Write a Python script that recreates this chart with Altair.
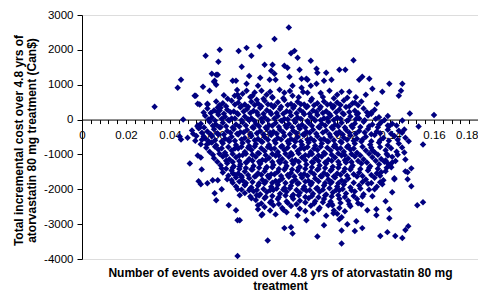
import altair as alt
import pandas as pd

# (events avoided, incremental cost Can$)
upper_points = [
    (0.094, 2640), (0.0875, 2314), (0.0807, 2100), (0.0748, 2057), (0.0626, 2000),
    (0.0712, 1970), (0.0966, 1971), (0.095, 1900), (0.0562, 1829), (0.077, 1829),
    (0.098, 1771), (0.104, 1686), (0.1234, 1700), (0.062, 1657), (0.083, 1571),
    (0.0866, 1571), (0.092, 1543), (0.0726, 1514), (0.0934, 1486), (0.0989, 1429),
    (0.1066, 1457), (0.086, 1400), (0.107, 1343), (0.111, 1343), (0.117, 1429),
    (0.1197, 1429), (0.059, 1314), (0.061, 1286), (0.0875, 1314), (0.1274, 1229),
    (0.126, 1143), (0.1306, 1171), (0.045, 1143), (0.0853, 1143), (0.088, 1143),
    (0.0943, 1229), (0.0998, 1171), (0.102, 1171), (0.1134, 1143), (0.060, 1086),
    (0.0685, 1114), (0.070, 1114), (0.110, 1114), (0.061, 1000), (0.0748, 1029),
    (0.1066, 1029), (0.1397, 1029), (0.1456, 1029), (0.0435, 914), (0.055, 943),
    (0.080, 971), (0.104, 971), (0.0957, 971), (0.0998, 914), (0.132, 886),
    (0.0898, 857), (0.058, 829), (0.0748, 829), (0.0816, 829), (0.1125, 829),
    (0.145, 829), (0.118, 800), (0.1215, 800), (0.1365, 800), (0.092, 771),
    (0.1025, 771), (0.073, 743), (0.0707, 714), (0.0839, 714), (0.116, 714),
    (0.129, 714), (0.0512, 686), (0.0694, 686), (0.0775, 686), (0.0957, 686),
    (0.144, 686), (0.0866, 629), (0.1206, 629), (0.0662, 600), (0.0794, 571),
    (0.0617, 1286), (0.0603, 1114), (0.1025, 1143), (0.076, 1250), (0.081, 1200),
    (0.0715, 620), (0.0765, 650), (0.0825, 600), (0.0865, 650), (0.0915, 610),
    (0.0985, 640), (0.1045, 600), (0.1095, 650), (0.1145, 610), (0.1245, 640),
    (0.0785, 780), (0.0855, 800), (0.0945, 820), (0.1005, 790), (0.1085, 760),
    (0.0705, 850), (0.0645, 700),
]

left_right_fringe = [
    (0.033, 371), (0.0517, 686), (0.0535, 430), (0.0571, 430), (0.0526, 457),
    (0.057, 457), (0.0553, 200), (0.0617, 343), (0.0626, 257), (0.046, 0),
    (0.0444, -486), (0.045, -571), (0.0526, -171), (0.0535, -229), (0.0553, -486),
    (0.059, -657), (0.0567, -714), (0.049, -1257), (0.0526, -1029), (0.054, -1086),
    (0.0544, -1429), (0.053, -1771), (0.054, -1857), (0.057, -1829), (0.0594, -1743),
    (0.0617, -1743), (0.0603, -2114), (0.061, -2314), (0.0635, -2000), (0.0635, -1400),
    (0.134, 457), (0.1315, 200), (0.149, 171), (0.160, 130), (0.124, 486),
    (0.125, 143), (0.1456, -29), (0.143, -171), (0.139, -171), (0.135, -143),
    (0.153, -200), (0.1465, -286), (0.155, -714), (0.1465, -943), (0.147, -1143),
    (0.1497, -1400), (0.147, -1486), (0.148, -1514), (0.148, -1714), (0.142, -1686),
    (0.139, -1029), (0.139, -1257), (0.1406, -1371), (0.132, -886), (0.141, -1229),
    (0.138, -1171), (0.136, -1514), (0.1365, -1857), (0.133, -2000), (0.1497, -1914),
    (0.141, -2086), (0.142, -1714),
]

core_upper = [
    (0.061, 520), (0.064, 470), (0.068, 540), (0.071, 480), (0.074, 430), (0.077, 510),
    (0.080, 460), (0.083, 540), (0.086, 420), (0.089, 500), (0.092, 560), (0.095, 450),
    (0.098, 510), (0.101, 430), (0.104, 540), (0.107, 470), (0.110, 520), (0.113, 440),
    (0.116, 490), (0.119, 550), (0.123, 470), (0.127, 520),
    (0.0625, 410), (0.0655, 380), (0.0695, 430), (0.0725, 390), (0.0755, 370), (0.0785, 420),
    (0.0815, 380), (0.0845, 440), (0.0875, 400), (0.0905, 370), (0.0935, 420), (0.0965, 390),
    (0.0995, 440), (0.1025, 380), (0.1055, 410), (0.1085, 370), (0.1115, 430), (0.1145, 390),
    (0.1175, 420), (0.1215, 380), (0.1255, 410),
    (0.057, 320), (0.060, 260), (0.063, 340), (0.066, 280), (0.069, 230), (0.072, 350),
    (0.075, 300), (0.078, 250), (0.081, 330), (0.084, 270), (0.087, 360), (0.090, 300),
    (0.093, 240), (0.096, 330), (0.099, 280), (0.102, 350), (0.105, 260), (0.108, 310),
    (0.111, 240), (0.114, 340), (0.117, 290), (0.120, 360), (0.124, 250), (0.128, 320),
    (0.133, 280),
    (0.0585, 190), (0.0615, 220), (0.0645, 170), (0.0675, 210), (0.0705, 180), (0.0735, 230),
    (0.0765, 190), (0.0795, 210), (0.0825, 170), (0.0855, 220), (0.0885, 190), (0.0915, 170),
    (0.0945, 220), (0.0975, 180), (0.1005, 210), (0.1035, 170), (0.1065, 220), (0.1095, 190),
    (0.1125, 160), (0.1155, 210), (0.1185, 180), (0.1215, 220), (0.1255, 180), (0.1295, 210),
    (0.1315, 170),
    (0.056, 110), (0.059, 60), (0.062, 140), (0.065, 80), (0.068, 30), (0.071, 150),
    (0.074, 90), (0.077, 40), (0.080, 130), (0.083, 70), (0.086, 160), (0.089, 100),
    (0.092, 20), (0.095, 120), (0.098, 60), (0.101, 150), (0.104, 80), (0.107, 130),
    (0.110, 40), (0.113, 110), (0.116, 60), (0.119, 150), (0.122, 90), (0.126, 30),
    (0.130, 120), (0.135, 70), (0.139, 100),
    (0.0575, 0), (0.0605, -30), (0.0635, 20), (0.0665, -10), (0.0695, 30), (0.0725, -20),
    (0.0755, 10), (0.0785, -40), (0.0815, 20), (0.0845, -10), (0.0875, 30), (0.0905, -30),
    (0.0935, 10), (0.0965, -20), (0.0995, 20), (0.1025, -40), (0.1055, 10), (0.1085, -20),
    (0.1115, 30), (0.1145, -10), (0.1175, 20), (0.1205, -30), (0.1245, 10), (0.1285, -20),
    (0.1335, 20), (0.1375, -10),
    (0.054, -120), (0.058, -60), (0.061, -150), (0.064, -90), (0.067, -30), (0.070, -140),
    (0.073, -80), (0.076, -20), (0.079, -130), (0.082, -70), (0.085, -160), (0.088, -100),
    (0.091, -40), (0.094, -130), (0.097, -70), (0.100, -150), (0.103, -90), (0.106, -30),
    (0.109, -120), (0.112, -60), (0.115, -150), (0.118, -90), (0.121, -20), (0.124, -110),
    (0.128, -60), (0.132, -140), (0.136, -80), (0.141, -120),
    (0.0525, -200), (0.0555, -230), (0.0595, -180), (0.0625, -220), (0.0655, -190), (0.0685, -230),
    (0.0715, -200), (0.0745, -170), (0.0775, -220), (0.0805, -190), (0.0835, -230), (0.0865, -180),
    (0.0895, -210), (0.0925, -170), (0.0955, -220), (0.0985, -190), (0.1015, -230), (0.1045, -180),
    (0.1075, -210), (0.1105, -170), (0.1135, -220), (0.1165, -190), (0.1195, -230), (0.1225, -180),
    (0.1265, -210), (0.1305, -190), (0.1345, -220), (0.1395, -200),
    (0.050, -310), (0.053, -250), (0.057, -340), (0.060, -280), (0.063, -220), (0.066, -330),
    (0.069, -270), (0.072, -360), (0.075, -300), (0.078, -240), (0.081, -330), (0.084, -270),
    (0.087, -350), (0.090, -290), (0.093, -230), (0.096, -320), (0.099, -260), (0.102, -350),
    (0.105, -290), (0.108, -230), (0.111, -320), (0.114, -260), (0.117, -350), (0.120, -290),
    (0.123, -230), (0.126, -330), (0.130, -270), (0.134, -340), (0.139, -290), (0.144, -320),
]

core_middle = [
    (0.0505, -410), (0.0545, -380), (0.0585, -420), (0.0615, -390), (0.0645, -430), (0.0675, -380),
    (0.0705, -410), (0.0735, -370), (0.0765, -420), (0.0795, -390), (0.0825, -430), (0.0855, -380),
    (0.0885, -410), (0.0915, -370), (0.0945, -420), (0.0975, -390), (0.1005, -430), (0.1035, -380),
    (0.1065, -410), (0.1095, -370), (0.1125, -420), (0.1155, -390), (0.1185, -430), (0.1215, -380),
    (0.1245, -410), (0.1285, -370), (0.1315, -420), (0.1355, -390), (0.1405, -410), (0.1455, -380),
    (0.048, -520), (0.052, -470), (0.056, -540), (0.059, -480), (0.062, -430), (0.065, -550),
    (0.068, -490), (0.071, -430), (0.074, -530), (0.077, -470), (0.080, -560), (0.083, -500),
    (0.086, -440), (0.089, -530), (0.092, -470), (0.095, -560), (0.098, -500), (0.101, -440),
    (0.104, -540), (0.107, -480), (0.110, -560), (0.113, -490), (0.116, -430), (0.119, -520),
    (0.122, -460), (0.125, -550), (0.129, -490), (0.133, -440), (0.137, -530), (0.142, -470),
    (0.147, -520),
    (0.0515, -610), (0.0545, -580), (0.0575, -620), (0.0605, -590), (0.0635, -630), (0.0665, -580),
    (0.0695, -610), (0.0725, -570), (0.0755, -620), (0.0785, -590), (0.0815, -630), (0.0845, -580),
    (0.0875, -610), (0.0905, -570), (0.0935, -620), (0.0965, -590), (0.0995, -630), (0.1025, -580),
    (0.1055, -610), (0.1085, -570), (0.1115, -620), (0.1145, -590), (0.1175, -630), (0.1205, -580),
    (0.1235, -610), (0.1275, -570), (0.1315, -620), (0.1355, -590), (0.1395, -610), (0.1435, -580),
    (0.1485, -620),
    (0.054, -710), (0.058, -660), (0.061, -740), (0.064, -680), (0.067, -620), (0.070, -730),
    (0.073, -670), (0.076, -760), (0.079, -700), (0.082, -640), (0.085, -730), (0.088, -670),
    (0.091, -760), (0.094, -690), (0.097, -630), (0.100, -720), (0.103, -660), (0.106, -750),
    (0.109, -690), (0.112, -630), (0.115, -720), (0.118, -660), (0.121, -750), (0.124, -690),
    (0.127, -630), (0.131, -720), (0.135, -660), (0.139, -740), (0.144, -690),
    (0.0565, -810), (0.0605, -780), (0.0635, -820), (0.0665, -790), (0.0695, -830), (0.0725, -780),
    (0.0755, -810), (0.0785, -770), (0.0815, -820), (0.0845, -790), (0.0875, -830), (0.0905, -780),
    (0.0935, -810), (0.0965, -770), (0.0995, -820), (0.1025, -790), (0.1055, -830), (0.1085, -780),
    (0.1115, -810), (0.1145, -770), (0.1175, -820), (0.1205, -790), (0.1235, -830), (0.1275, -780),
    (0.1315, -810), (0.1355, -790), (0.1405, -820), (0.1455, -800),
    (0.058, -920), (0.062, -860), (0.065, -950), (0.068, -890), (0.071, -830), (0.074, -930),
    (0.077, -870), (0.080, -960), (0.083, -900), (0.086, -840), (0.089, -930), (0.092, -870),
    (0.095, -960), (0.098, -900), (0.101, -840), (0.104, -930), (0.107, -870), (0.110, -950),
    (0.113, -890), (0.116, -830), (0.119, -920), (0.122, -860), (0.125, -950), (0.129, -890),
    (0.133, -940), (0.138, -880), (0.143, -920),
    (0.0595, -1010), (0.0625, -980), (0.0655, -1020), (0.0685, -990), (0.0715, -1030), (0.0745, -980),
    (0.0775, -1010), (0.0805, -970), (0.0835, -1020), (0.0865, -990), (0.0895, -1030), (0.0925, -980),
    (0.0955, -1010), (0.0985, -970), (0.1015, -1020), (0.1045, -990), (0.1075, -1030), (0.1105, -980),
    (0.1135, -1010), (0.1165, -970), (0.1195, -1020), (0.1225, -990), (0.1265, -1030), (0.1305, -980),
    (0.1345, -1010), (0.1385, -990), (0.1435, -1010),
    (0.060, -1110), (0.064, -1060), (0.067, -1140), (0.070, -1080), (0.073, -1020), (0.076, -1130),
    (0.079, -1070), (0.082, -1160), (0.085, -1100), (0.088, -1040), (0.091, -1130), (0.094, -1070),
    (0.097, -1160), (0.100, -1090), (0.103, -1030), (0.106, -1120), (0.109, -1060), (0.112, -1150),
    (0.115, -1090), (0.118, -1030), (0.121, -1120), (0.124, -1060), (0.128, -1140), (0.132, -1080),
    (0.136, -1130), (0.141, -1070),
    (0.0615, -1210), (0.0655, -1180), (0.0685, -1220), (0.0715, -1190), (0.0745, -1230), (0.0775, -1180),
    (0.0805, -1210), (0.0835, -1170), (0.0865, -1220), (0.0895, -1190), (0.0925, -1230), (0.0955, -1180),
    (0.0985, -1210), (0.1015, -1170), (0.1045, -1220), (0.1075, -1190), (0.1105, -1230), (0.1135, -1180),
    (0.1165, -1210), (0.1195, -1170), (0.1225, -1220), (0.1255, -1190), (0.1295, -1230), (0.1335, -1180),
    (0.1375, -1210), (0.1425, -1190),
    (0.063, -1310), (0.066, -1250), (0.069, -1340), (0.072, -1280), (0.075, -1220), (0.078, -1330),
    (0.081, -1270), (0.084, -1360), (0.087, -1300), (0.090, -1240), (0.093, -1330), (0.096, -1270),
    (0.099, -1360), (0.102, -1290), (0.105, -1230), (0.108, -1320), (0.111, -1260), (0.114, -1350),
    (0.117, -1290), (0.120, -1230), (0.123, -1320), (0.127, -1260), (0.131, -1340), (0.135, -1280),
    (0.140, -1320),
]

core_lower = [
    (0.0655, -1410), (0.0685, -1380), (0.0715, -1420), (0.0745, -1390), (0.0775, -1430), (0.0805, -1380),
    (0.0835, -1410), (0.0865, -1370), (0.0895, -1420), (0.0925, -1390), (0.0955, -1430), (0.0985, -1380),
    (0.1015, -1410), (0.1045, -1370), (0.1075, -1420), (0.1105, -1390), (0.1135, -1430), (0.1165, -1380),
    (0.1195, -1410), (0.1225, -1370), (0.1265, -1420), (0.1305, -1390), (0.1345, -1410), (0.1385, -1380),
    (0.064, -1520), (0.068, -1460), (0.071, -1550), (0.074, -1490), (0.077, -1430), (0.080, -1540),
    (0.083, -1480), (0.086, -1570), (0.089, -1500), (0.092, -1440), (0.095, -1530), (0.098, -1470),
    (0.101, -1560), (0.104, -1500), (0.107, -1440), (0.110, -1530), (0.113, -1470), (0.116, -1550),
    (0.119, -1490), (0.122, -1430), (0.126, -1520), (0.130, -1460), (0.134, -1540), (0.138, -1480),
    (0.0665, -1610), (0.0695, -1580), (0.0725, -1620), (0.0755, -1590), (0.0785, -1630), (0.0815, -1580),
    (0.0845, -1610), (0.0875, -1570), (0.0905, -1620), (0.0935, -1590), (0.0965, -1630), (0.0995, -1580),
    (0.1025, -1610), (0.1055, -1570), (0.1085, -1620), (0.1115, -1590), (0.1145, -1630), (0.1175, -1580),
    (0.1205, -1610), (0.1235, -1570), (0.1275, -1620), (0.1315, -1590), (0.1355, -1610),
    (0.066, -1710), (0.070, -1660), (0.073, -1740), (0.076, -1680), (0.079, -1620), (0.082, -1730),
    (0.085, -1670), (0.088, -1760), (0.091, -1700), (0.094, -1640), (0.097, -1730), (0.100, -1670),
    (0.103, -1760), (0.106, -1690), (0.109, -1630), (0.112, -1720), (0.115, -1660), (0.118, -1750),
    (0.121, -1690), (0.125, -1630), (0.129, -1720), (0.133, -1670), (0.137, -1740),
    (0.0685, -1810), (0.0715, -1780), (0.0745, -1820), (0.0775, -1790), (0.0805, -1830), (0.0835, -1780),
    (0.0865, -1810), (0.0895, -1770), (0.0925, -1820), (0.0955, -1790), (0.0985, -1830), (0.1015, -1780),
    (0.1045, -1810), (0.1075, -1770), (0.1105, -1820), (0.1135, -1790), (0.1165, -1830), (0.1195, -1780),
    (0.1235, -1810), (0.1275, -1790), (0.1315, -1820), (0.1355, -1800),
    (0.070, -1920), (0.074, -1860), (0.077, -1950), (0.080, -1890), (0.083, -1830), (0.086, -1930),
    (0.089, -1870), (0.092, -1960), (0.095, -1900), (0.098, -1840), (0.101, -1930), (0.104, -1870),
    (0.107, -1960), (0.110, -1890), (0.113, -1830), (0.116, -1920), (0.119, -1860), (0.122, -1950),
    (0.126, -1890), (0.130, -1840), (0.134, -1930),
    (0.0725, -2010), (0.0765, -1980), (0.0795, -2020), (0.0825, -1990), (0.0855, -2030), (0.0885, -1980),
    (0.0915, -2010), (0.0945, -1970), (0.0975, -2020), (0.1005, -1990), (0.1035, -2030), (0.1065, -1980),
    (0.1095, -2010), (0.1125, -1970), (0.1155, -2020), (0.1185, -1990), (0.1225, -2030), (0.1265, -1980),
    (0.1305, -2010),
    (0.074, -2110), (0.078, -2060), (0.081, -2140), (0.084, -2080), (0.087, -2020), (0.090, -2130),
    (0.093, -2070), (0.096, -2160), (0.099, -2100), (0.102, -2040), (0.105, -2130), (0.108, -2070),
    (0.111, -2150), (0.114, -2090), (0.117, -2030), (0.120, -2120), (0.124, -2060), (0.128, -2140),
    (0.0765, -2210), (0.0805, -2180), (0.0835, -2220), (0.0865, -2190), (0.0895, -2230), (0.0925, -2180),
    (0.0955, -2210), (0.0985, -2170), (0.1015, -2220), (0.1045, -2190), (0.1075, -2230), (0.1105, -2180),
    (0.1135, -2210), (0.1165, -2170), (0.1195, -2220), (0.1235, -2190), (0.1275, -2210),
    (0.079, -2310), (0.083, -2260), (0.086, -2340), (0.089, -2280), (0.093, -2350), (0.096, -2270),
    (0.099, -2330), (0.103, -2260), (0.106, -2340), (0.110, -2280), (0.113, -2350), (0.117, -2270),
    (0.121, -2330), (0.125, -2280),
    (0.0815, -2410), (0.0855, -2380), (0.0895, -2420), (0.0935, -2390), (0.0975, -2430), (0.1015, -2380),
    (0.1055, -2410), (0.1095, -2370), (0.1135, -2420), (0.1175, -2390), (0.1215, -2430), (0.1255, -2400),
    (0.083, -2510), (0.087, -2460), (0.091, -2540), (0.095, -2480), (0.099, -2560), (0.104, -2470),
    (0.108, -2530), (0.112, -2460), (0.117, -2540), (0.122, -2490),
    (0.0855, -2610), (0.0915, -2590), (0.1015, -2620), (0.1075, -2580), (0.1145, -2610), (0.1195, -2630),
    (0.088, -2720), (0.093, -2660), (0.098, -2750), (0.105, -2690), (0.111, -2760), (0.116, -2700),
]

bottom_fringe = [
    (0.0667, -2457), (0.070, -2600), (0.0707, -2886), (0.0707, -3914), (0.0707, -2000),
    (0.0717, -2171), (0.068, -1743), (0.0685, -1543), (0.0717, -1343), (0.0726, -1657),
    (0.074, -1886), (0.076, -2029), (0.077, -2257), (0.0794, -2171), (0.080, -2571),
    (0.080, -2457), (0.0844, -3470), (0.092, -3114), (0.0957, -3270), (0.107, -3357),
    (0.118, -3557), (0.118, -3185), (0.124, -3200), (0.1274, -3114), (0.1206, -3000),
    (0.1356, -3343), (0.1388, -3229), (0.1424, -3343), (0.1456, -3400), (0.147, -3171),
    (0.1483, -3057), (0.1524, -2457), (0.155, -2371), (0.1397, -2829), (0.1397, -2571),
    (0.138, -2343), (0.1338, -2743), (0.1338, -2571), (0.1297, -2600), (0.1247, -2914),
    (0.118, -2800), (0.1143, -2686), (0.1138, -2457), (0.0816, -2743), (0.082, -2714),
    (0.095, -3086), (0.102, -2886), (0.110, -3029), (0.117, -2857), (0.127, -2440),
    (0.132, -2200), (0.0717, -2886),
]

x_tick_values = [round(i * 0.004, 3) for i in range(46)]
y_tick_values = [-4000, -3000, -2000, -1000, 0, 1000, 2000, 3000]

rows = upper_points + left_right_fringe + core_upper + core_middle + core_lower + bottom_fringe
df = pd.DataFrame(rows, columns=["events", "cost"])

FONT = "Liberation Sans"
PLOT_H = 244
ZERO_OFFSET = -(PLOT_H * 4000 / 7000)

chart = alt.Chart(df).mark_point(
    shape="diamond", filled=True, size=42, color="#000080", opacity=1
).encode(
    x=alt.X(
        "events:Q",
        scale=alt.Scale(domain=[0, 0.18], nice=False, zero=False),
        axis=alt.Axis(
            values=x_tick_values,
            labelExpr="abs(datum.value*50 - round(datum.value*50)) < 0.01 ? format(datum.value, '~g') : ''",
            labelAlign={"condition": {"test": "datum.value > 0.179", "value": "right"}, "value": "center"},
            offset=ZERO_OFFSET,
            tickSize=4,
            tickColor="black",
            domainColor="black",
            labelPadding=6,
            labelFontSize=11.5,
            labelColor="black",
            labelFont=FONT,
            labelFlush=False,
            labelOverlap=False,
            grid=False,
            title=["Number of events avoided over 4.8 yrs of atorvastatin 80 mg", "treatment"],
            titleFont=FONT,
            titleFontSize=12,
            titleFontWeight="bold",
            titleColor="black",
            titleLineHeight=12.5,
            titleBaseline="alphabetic",
            titleY=157,
        ),
    ),
    y=alt.Y(
        "cost:Q",
        scale=alt.Scale(domain=[-4000, 3000], nice=False, zero=False),
        axis=alt.Axis(
            values=y_tick_values,
            labelExpr="'' + datum.value",
            tickSize=5,
            tickColor="black",
            domainColor="black",
            labelPadding=4,
            labelFontSize=11.5,
            labelColor="black",
            labelFont=FONT,
            grid=False,
            title=["Total incremental cost over 4.8 yrs of", "atorvastatin 80 mg treatment (Can$)"],
            titleFont=FONT,
            titleFontSize=12,
            titleFontWeight="bold",
            titleColor="black",
            titleLineHeight=13.5,
            titleAngle=270,
            titleAlign="center",
            titleBaseline="alphabetic",
            titleX=-60,
            titleY=125,
        ),
    ),
).properties(
    width=396,
    height=PLOT_H,
    autosize=alt.AutoSizeParams(type="none"),
    padding={"left": 74, "top": 7, "right": 0, "bottom": 34},
).configure_view(stroke=None).configure(background="white")

chart.save("out.html", embed_options={"renderer": "svg", "actions": False})
